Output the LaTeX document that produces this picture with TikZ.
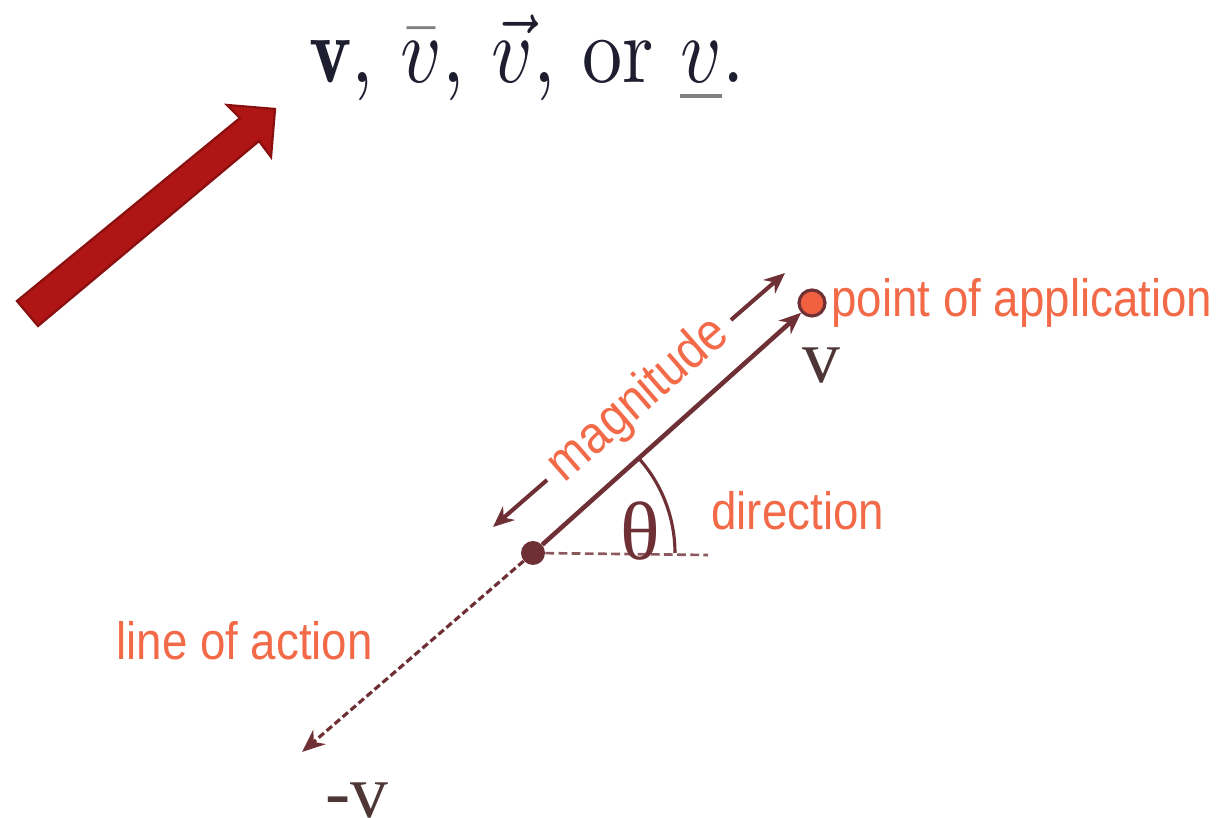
\documentclass[tikz,border=0pt]{standalone}
\usepackage{fontspec}
\usepackage{graphicx}
\usepackage{xcolor}
\usepackage{tikz}
\usetikzlibrary{positioning, arrows.meta}

\newfontfamily\lblfont{Liberation Sans}
\newfontfamily\symbfont{Liberation Serif}

\definecolor{vecmaroon}{HTML}{6E2F35}
\definecolor{lblorange}{HTML}{F26A48}
\definecolor{ptorange}{HTML}{EE6040}
\definecolor{bigred}{HTML}{B01515}
\definecolor{bigredline}{HTML}{8A1010}
\definecolor{symbgray}{HTML}{4E3636}
\definecolor{notink}{HTML}{1E1E30}

\begin{document}
\begin{tikzpicture}[
  x=0.02cm, y=0.02cm,
  every node/.style={inner sep=0pt},
  lbl/.style={font=\lblfont\fontsize{26}{28}\selectfont, text=lblorange,
              anchor=base west, yscale=1.15},
  symb/.style={text=symbgray, font=\symbfont\fontsize{43}{46}\selectfont},
  vec/.style={-{Stealth[length=4.4mm, width=3.6mm]}, line width=2.6pt, draw=vecmaroon},
  dim/.style={{Stealth[length=4.2mm, width=3.6mm]}-{Stealth[length=4.2mm, width=3.6mm]},
              line width=2.3pt, draw=vecmaroon},
  action/.style={-{Stealth[length=4.6mm, width=3.8mm]}, line width=1.8pt,
                 draw=vecmaroon, dash pattern=on 4pt off 2pt}
]
  \useasboundingbox (0,0) rectangle (1225,818);

  % big arrow
  \draw[fill=bigred, draw=bigredline, line width=1.3pt, line join=miter]
    (17,517) -- (240,700) -- (227,713) -- (275,709) -- (271,661)
    -- (259,677) -- (38,492) -- cycle;

  % notation
  \node (notation) [anchor=base west, text=notink, yscale=1.18] at (309,735)
    {\resizebox{8.7cm}{!}{$\mathbf{v}$, $\textcolor{gray}{\bar{\textcolor{notink}{v}}}$,
     $\vec{v}$, or $\textcolor{gray}{\underline{\textcolor{notink}{v}}}$.}};

  % vector
  \node (orig) [circle, fill=vecmaroon, minimum size=0.48cm] at (533,265) {};
  \node (app) [circle, fill=ptorange, draw=vecmaroon, line width=1.8pt,
               minimum size=0.52cm] at (812,515) {};
  \coordinate (horiz) at (708,263);
  \coordinate (tail) at (302,66);
  \coordinate (magA) at (493,291);
  \coordinate (magB) at (785,545);

  \draw[vec] (orig) -- (app);
  \draw[dim] (magA) -- node[sloped, fill=white, inner xsep=0.22cm,
    font=\lblfont\fontsize{27}{29}\selectfont, text=lblorange, yscale=1.12]
    {magnitude} (magB);
  \draw[vecmaroon!80, line width=1.5pt, dash pattern=on 5pt off 2.5pt]
    (orig) -- (horiz);
  \draw[action] (orig) -- (tail);
  \draw[vecmaroon, line width=1.8pt] (orig.center) ++(0:2.84cm)
    arc[start angle=0, end angle=41.9, radius=2.84cm];

  % labels
  \node (theta) [text=vecmaroon, font=\symbfont\fontsize{47}{50}\selectfont]
    at (640,287) {θ};
  \node (vlbl) [symb] at (821,452) {v};
  \node (mvlbl) [symb] at (357,17) {-v};
  \node (applbl) [lbl] at (831,501) {point of application};
  \node (dirlbl) [lbl] at (711,288) {direction};
  \node (actlbl) [lbl] at (116,158) {line of action};
\end{tikzpicture}
\end{document}
